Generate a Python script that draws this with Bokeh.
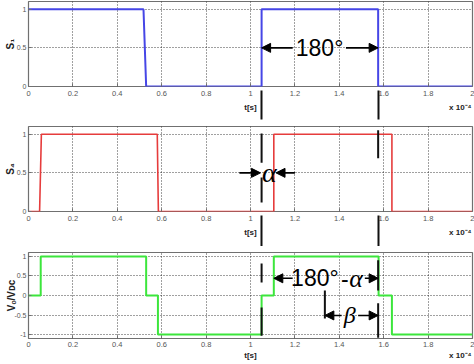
import numpy as np
from bokeh.plotting import figure
from bokeh.layouts import column
from bokeh.models import (FixedTicker, Label, Arrow, NormalHead, ColumnDataSource, Range1d,
                          LinearAxis)
from bokeh.embed import file_html
from bokeh.resources import INLINE

# ---------------- data ----------------
x_ticks = [0.0, 0.2, 0.4, 0.6, 0.8, 1.0, 1.2, 1.4, 1.6, 1.8, 2.0]
x_tick_labels = ["0", "0.2", "0.4", "0.6", "0.8", "1", "1.2", "1.4", "1.6", "1.8", "2"]
y_ticks_s = [0.0, 0.5, 1.0]
y_tick_labels_s = ["0", "0.5", "1"]
y_ticks_v = [-1.0, -0.5, 0.0, 0.5, 1.0]
y_tick_labels_v = ["-1", "-0.5", "0", "0.5", "1"]
x_title = "t[s]"
x_scale_text = "x 10⁻⁴"
x_title_pos = 1.0
x_scale_pos = 1.945

t_s1 = [0.0, 0.518, 0.53, 1.05, 1.05, 1.575, 1.575, 2.0]
s1 = [1, 1, 0, 0, 1, 1, 0, 0]

t_s4 = [0.0, 0.05, 0.058, 0.58, 0.585, 1.105, 1.105, 1.637, 1.637, 2.0]
s4 = [0, 0, 1, 1, 0, 0, 1, 1, 0, 0]

t_v = [0.0, 0.055, 0.055, 0.53, 0.53, 0.583, 0.583, 1.05, 1.05, 1.105, 1.105,
       1.577, 1.577, 1.637, 1.637, 2.0]
v = [0, 0, 1, 1, 0, 0, -1, -1, 0, 0, 1, 1, 0, 0, -1, -1]

# key instants used by the annotations
t_a = 1.05     # S1 turn-on
t_b = 1.575    # S1 turn-off
t_c = 1.105    # S4 turn-on (alpha later)
t_d = 1.335    # start of beta

TICK_FONT = "Liberation Sans"


def make_panel(height, top, bottom, yr, yticks, ylabels, ylabel, ylabel_standoff,
               marker_in, marker_out, x_standoff, title_standoff):
    p = figure(width=474, height=height, output_backend="svg", toolbar_location=None,
               x_range=Range1d(0, 2), y_range=Range1d(*yr),
               min_border_left=28, min_border_right=2,
               min_border_top=top, min_border_bottom=bottom)
    p.background_fill_color = "white"
    p.border_fill_color = "white"
    p.outline_line_color = "#707070"
    p.outline_line_width = 1.2
    p.xaxis.ticker = FixedTicker(ticks=x_ticks)
    p.xaxis.major_label_overrides = dict(zip(x_ticks, x_tick_labels))
    p.yaxis.ticker = FixedTicker(ticks=yticks)
    p.yaxis.major_label_overrides = dict(zip(yticks, ylabels))
    for ax in (p.xaxis, p.yaxis):
        ax.axis_line_color = None
        ax.major_tick_in = 3
        ax.major_tick_out = 0
        ax.minor_tick_in = 0
        ax.minor_tick_out = 0
        ax.minor_tick_line_color = None
        ax.major_tick_line_color = "#707070"
        ax.major_label_text_font = TICK_FONT
        ax.major_label_text_color = "#555555"
    p.xaxis.major_label_text_font_size = "7.5px"
    p.yaxis.major_label_text_font_size = "7px"
    p.xaxis.major_label_standoff = x_standoff
    p.yaxis.major_label_standoff = 2
    # y title
    p.yaxis.axis_label = ylabel
    p.yaxis.axis_label_text_font = "Liberation Sans"
    p.yaxis.axis_label_text_font_style = "bold"
    p.yaxis.axis_label_text_font_size = "10px"
    p.yaxis.axis_label_text_color = "#222222"
    p.yaxis.axis_label_standoff = ylabel_standoff
    # second row under the x axis: "t[s]" and the scale factor
    ax2 = LinearAxis(ticker=FixedTicker(ticks=[x_title_pos, x_scale_pos]),
                     major_label_overrides={x_title_pos: x_title, x_scale_pos: x_scale_text},
                     axis_line_color=None, major_tick_line_color=None,
                     minor_tick_line_color=None,
                     major_tick_in=0, major_tick_out=0, minor_tick_in=0, minor_tick_out=0,
                     major_label_standoff=title_standoff,
                     major_label_text_font="Liberation Sans",
                     major_label_text_font_style="bold",
                     major_label_text_font_size="8px",
                     major_label_text_color="#222222")
    p.add_layout(ax2, "below")
    # vertical marker lines running between the panels (inward minor ticks of a bare axis)
    if marker_in:
        ax3 = LinearAxis(ticker=FixedTicker(ticks=[], minor_ticks=[t_a, t_b]),
                         axis_line_color=None, major_tick_line_color=None,
                         major_tick_in=0, major_tick_out=0,
                         minor_tick_in=marker_in, minor_tick_out=marker_out,
                         minor_tick_line_color="#111111", minor_tick_line_width=2,
                         major_label_standoff=0, major_label_text_font_size="1px")
        p.add_layout(ax3, "below")
    for g in (p.xgrid, p.ygrid):
        g.grid_line_color = "black"
        g.grid_line_alpha = 0.75
        g.grid_line_dash = "1 2"
        g.grid_line_width = 1
    p.xgrid.ticker = FixedTicker(ticks=x_ticks)
    p.ygrid.ticker = FixedTicker(ticks=yticks)
    return p


def add_segments(p, xs, y0s, y1s):
    src = ColumnDataSource(dict(x0=xs, y0=y0s, x1=xs, y1=y1s))
    p.segment("x0", "y0", "x1", "y1", source=src, line_color="#111111", line_width=2)


def add_arrow(p, x0, x1, y):
    p.add_layout(Arrow(end=NormalHead(size=9, fill_color="black", line_color="black"),
                       x_start=x0, y_start=y, x_end=x1, y_end=y,
                       line_color="black", line_width=1.6))


def add_text(p, x, y, text, size, serif=False):
    p.add_layout(Label(x=x, y=y, text=text,
                       text_font="Liberation Serif" if serif else "Liberation Sans",
                       text_font_style="italic" if serif else "normal",
                       text_font_size=size, text_color="black",
                       text_align="center", text_baseline="middle"))


# ---------------- panel 1 : S1 ----------------
p1 = make_panel(120, 1, 34, (0, 1.1), y_ticks_s, y_tick_labels_s, "S₁", -2, 24, 5, 4, 4)
p1.line(t_s1, s1, line_color="#4646e6", line_width=2)
add_arrow(p1, 1.19, t_a, 0.5)
add_arrow(p1, 1.43, t_b, 0.5)
add_text(p1, 1.311, 0.5, "180°", "23px")

# ---------------- panel 2 : S4 ----------------
p2 = make_panel(126, 6, 34, (0, 1.1), y_ticks_s, y_tick_labels_s, "S₄", -2, 24, 7, 4, 4)
p2.line(t_s4, s4, line_color="#e63c3c", line_width=1.6)
add_segments(p2, [t_a, t_a, t_b], [1.01, 0.44, 1.05], [0.63, 0.115, 0.69])
add_arrow(p2, 0.95, t_a - 0.005, 0.5)
add_arrow(p2, 1.20, t_c + 0.01, 0.5)
add_text(p2, 1.085, 0.5, "α", "28px", serif=True)

# ---------------- panel 3 : Vo/VDC ----------------
p3 = make_panel(118, 6, 26, (-1.1, 1.1), y_ticks_v, y_tick_labels_v, "Vₒ/Vᴅᴄ", -6, 0, 0, 3, 1)
p3.line(t_v, v, line_color="#3ce63c", line_width=2)
add_segments(p3, [t_a, t_a, t_b, t_b, t_d],
             [0.82, -0.31, 0.9, -0.2, 0.13],
             [0.33, -1.03, 0.13, -1.08, -0.59])
add_arrow(p3, 1.19, t_c, 0.44)
add_arrow(p3, 1.515, t_b, 0.44)
add_text(p3, 1.29, 0.44, "180°", "23px")
add_text(p3, 1.425, 0.44, "-", "23px")
add_text(p3, 1.475, 0.44, "α", "26px", serif=True)
add_arrow(p3, 1.41, t_d, -0.51)
add_arrow(p3, 1.485, t_b, -0.51)
add_text(p3, 1.447, -0.51, "β", "24px", serif=True)

layout = column(p1, p2, p3, spacing=0)

open("out.html", "w").write(file_html(layout, INLINE))
